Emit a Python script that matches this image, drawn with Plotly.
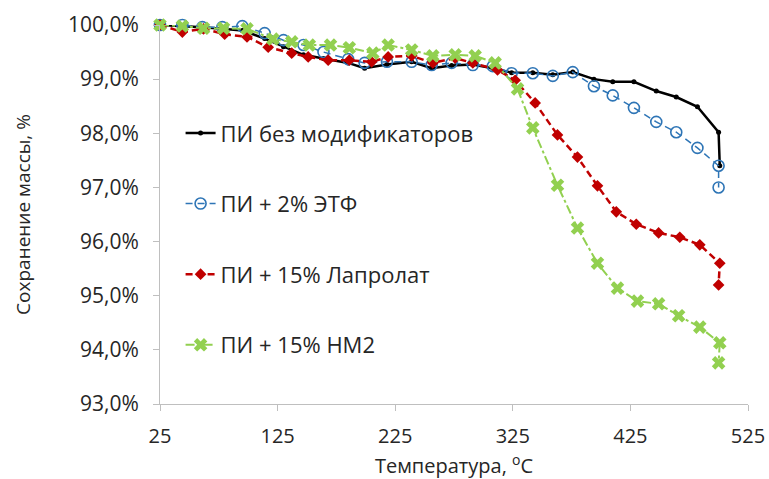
import plotly.graph_objects as go

# Black: ПИ без модификаторов
t_black = [25, 44, 61, 78, 95, 114, 130, 147, 164, 185, 199, 218, 239, 256, 273, 291, 308,
           324, 342, 359, 376, 394, 410, 428, 447, 464, 482, 500, 501]
v_black = [100.0, 99.98, 99.96, 99.93, 99.9, 99.75, 99.6, 99.45, 99.38, 99.3, 99.2, 99.27,
           99.32, 99.2, 99.25, 99.27, 99.2, 99.12, 99.12, 99.08, 99.13, 99.0, 98.95, 98.95,
           98.78, 98.67, 98.49, 98.02, 97.4]

# Blue: ПИ + 2% ЭТФ
t_blue = [25, 44, 61, 78, 95, 114, 130, 147, 164, 185, 199, 218, 239, 256, 273, 291, 308,
          324, 342, 359, 376, 394, 410, 428, 447, 464, 482, 500, 500]
v_blue = [100.0, 100.0, 99.96, 99.96, 99.98, 99.85, 99.72, 99.63, 99.5, 99.37, 99.3, 99.32,
          99.32, 99.26, 99.3, 99.26, 99.24, 99.11, 99.11, 99.06, 99.13, 98.87, 98.7, 98.47,
          98.21, 98.02, 97.73, 97.4, 97.0]

# Red: ПИ + 15% Лапролат
t_red = [25, 44, 62, 80, 99, 117, 137, 151, 168, 186, 205, 219, 239, 257, 276, 291, 312,
         327, 344, 363, 380, 397, 413, 430, 449, 467, 484, 501, 500]
v_red = [100.0, 99.87, 99.93, 99.83, 99.78, 99.59, 99.48, 99.41, 99.35, 99.35, 99.32, 99.41,
         99.43, 99.3, 99.39, 99.3, 99.17, 98.98, 98.56, 97.97, 97.56, 97.03, 96.55, 96.32,
         96.16, 96.08, 95.94, 95.6, 95.2]

# Green: ПИ + 15% НМ2
t_green = [25, 44, 62, 79, 99, 121, 137, 152, 170, 186, 206, 219, 239, 257, 276, 293, 310,
           329, 342, 363, 380, 397, 414, 431, 449, 466, 484, 501, 500]
v_green = [100.0, 99.98, 99.94, 99.94, 99.93, 99.74, 99.69, 99.63, 99.63, 99.58, 99.48, 99.63,
           99.54, 99.43, 99.45, 99.43, 99.3, 98.82, 98.1, 97.04, 96.25, 95.6, 95.14, 94.9,
           94.85, 94.63, 94.42, 94.13, 93.76]

names = ["ПИ без модификаторов", "ПИ + 2% ЭТФ", "ПИ + 15% Лапролат", "ПИ + 15% НМ2"]

FONT = "Open Sans"
TXT = "#262626"

fig = go.Figure()
fig.add_trace(go.Scatter(
    x=t_black, y=v_black, name=names[0], mode="lines+markers", legendgroup="a",
    line=dict(color="black", width=2.5),
    marker=dict(symbol="circle", size=5, color="black"), cliponaxis=False))
fig.add_trace(go.Scatter(
    x=t_blue, y=v_blue, name=names[1], mode="lines+markers", legendgroup="b",
    line=dict(color="#2E75B6", width=1.5, dash="7px,5px"),
    marker=dict(symbol="circle-open", size=11, color="#2E75B6", line=dict(width=1.6)),
    cliponaxis=False))
fig.add_trace(go.Scatter(
    x=t_red, y=v_red, name=names[2], mode="lines+markers", legendgroup="c",
    line=dict(color="#C00000", width=2.5, dash="7px,4px"),
    marker=dict(symbol="diamond", size=9, color="#C00000"), cliponaxis=False))
fig.add_trace(go.Scatter(
    x=t_green, y=v_green, name=names[3], mode="lines+markers", legendgroup="d",
    line=dict(color="#92D050", width=2, dash="dashdot"),
    marker=dict(symbol="x", size=12, color="#92D050"), cliponaxis=False))

fig.update_layout(
    width=769, height=479,
    margin=dict(l=160, r=21, t=25, b=75, autoexpand=False),
    paper_bgcolor="white", plot_bgcolor="white",
    separators=", ",
    font=dict(family=FONT, size=20, color=TXT),
    legend=dict(x=0.035, y=0.77, xanchor="left", yanchor="top",
                bgcolor="rgba(0,0,0,0)", tracegroupgap=39,
                font=dict(family=FONT, size=22, color=TXT), itemwidth=30),
    xaxis=dict(range=[25, 525], tickvals=[25, 125, 225, 325, 425, 525], automargin=False,
               showgrid=False, zeroline=False, showline=True, linecolor="#BFBFBF",
               linewidth=1, ticks="outside", ticklen=6, tickcolor="#BFBFBF",
               ticklabelstandoff=8,
               tickfont=dict(family=FONT, size=20, color=TXT),
               title=dict(text="Температура, <sup>o</sup>C", standoff=11,
                          font=dict(family=FONT, size=20, color=TXT))),
    yaxis=dict(range=[93, 100], dtick=1, tickformat=".1f", ticksuffix="%", automargin=False,
               showgrid=False, zeroline=False, showline=True, linecolor="#BFBFBF",
               linewidth=1, ticks="outside", ticklen=6, tickcolor="#BFBFBF",
               ticklabelstandoff=10,
               tickfont=dict(family=FONT, size=21, color=TXT),
               title=dict(text="Сохранение массы, %", standoff=32,
                          font=dict(family=FONT, size=19, color=TXT))),
)

fig.write_html("out.html")
